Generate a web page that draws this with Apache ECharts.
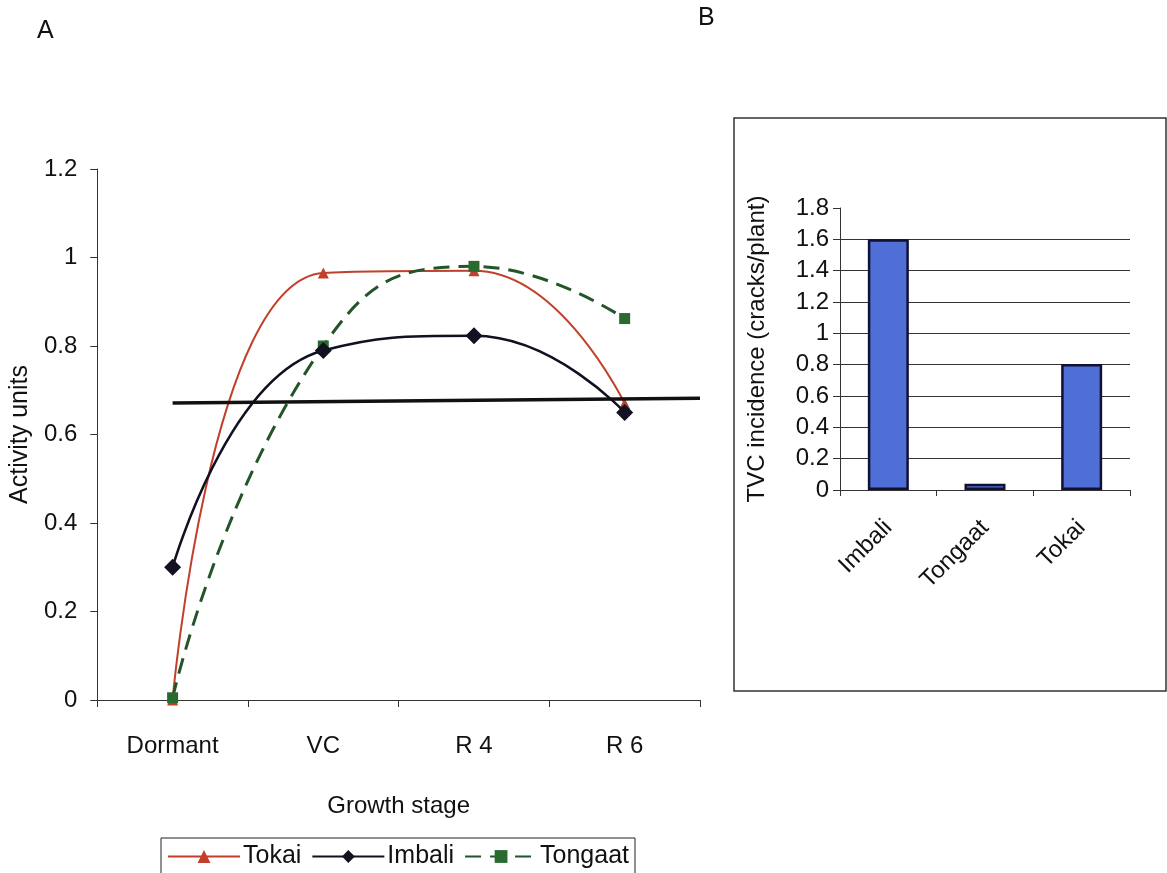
<!DOCTYPE html>
<html>
<head>
<meta charset="utf-8">
<script src="https://cdn.jsdelivr.net/npm/echarts@6/dist/echarts.min.js"></script>
<style>html,body{margin:0;padding:0;background:#fff}#c{width:1167px;height:873px}</style>
</head>
<body>
<div id="c"></div>
<script>
// ---- Panel A data ----
const stages = ['Dormant', 'VC', 'R 4', 'R 6'];
const tokai = [0, 0.965, 0.97, 0.67];
const imbali = [0.30, 0.79, 0.823, 0.65];
const tongaat = [0.005, 0.80, 0.98, 0.862];
const thresholdLine = [[0.5, 0.671], [4, 0.682]];
// ---- Panel B data ----
const cultivars = ['Imbali', 'Tongaat', 'Tokai'];
const tvcIncidence = [1.6, 0.04, 0.805];

const FONT = 'Liberation Sans, Arial, sans-serif';
const chart = echarts.init(document.getElementById('c'), null, {renderer: 'canvas'});

const option = {
  backgroundColor: '#fff',
  animation: false,
  textStyle: {fontFamily: FONT, color: '#111'},
  graphic: [
    {type: 'text', left: 37, top: 19, style: {text: 'A', font: '25px ' + FONT, fill: '#111'}},
    {type: 'text', left: 698, top: 6, style: {text: 'B', font: '25px ' + FONT, fill: '#111'}},
    {type: 'rect', shape: {x: 734, y: 118, width: 432, height: 573}, style: {fill: 'none', stroke: '#333', lineWidth: 1.5}, z: -1}
  ],
  legend: {
    data: ['Tokai', 'Imbali', 'Tongaat'],
    left: 161, top: 838,
    orient: 'horizontal',
    padding: [6, 6, 6, 6],
    borderColor: '#222', borderWidth: 1,
    itemWidth: 72, itemHeight: 16, itemGap: 10,
    textStyle: {fontSize: 25, fontFamily: FONT, color: '#111', padding: [0, 0, 0, -2]}
  },
  grid: [
    {left: 97, right: 467, top: 169, bottom: 173, containLabel: false},
    {left: 840, right: 37, top: 208, bottom: 383, containLabel: false}
  ],
  xAxis: [
    {
      type: 'category', gridIndex: 0, data: stages, boundaryGap: true,
      axisLine: {lineStyle: {color: '#333', width: 1}},
      axisTick: {show: true, length: 7, inside: false, lineStyle: {color: '#333'}},
      axisLabel: {fontSize: 24, color: '#111', margin: 34, fontFamily: FONT},
      name: 'Growth stage', nameLocation: 'middle', nameGap: 94,
      nameTextStyle: {fontSize: 24, color: '#111', fontFamily: FONT}
    },
    {type: 'value', gridIndex: 0, min: 0, max: 4, show: false},
    {
      type: 'category', gridIndex: 1, data: cultivars, boundaryGap: true,
      axisLine: {lineStyle: {color: '#333', width: 1}},
      axisTick: {show: true, length: 6, lineStyle: {color: '#333'}},
      axisLabel: {fontSize: 24, color: '#111', rotate: 45, margin: 34, fontFamily: FONT}
    }
  ],
  yAxis: [
    {
      type: 'value', gridIndex: 0, min: 0, max: 1.2, interval: 0.2,
      axisLine: {show: true, lineStyle: {color: '#333', width: 1}},
      axisTick: {show: true, length: 7, lineStyle: {color: '#333'}},
      splitLine: {show: false},
      axisLabel: {fontSize: 24, color: '#111', margin: 20, fontFamily: FONT},
      name: 'Activity units', nameLocation: 'middle', nameGap: 62, nameRotate: 90,
      nameTextStyle: {fontSize: 25, color: '#111', fontFamily: FONT}
    },
    {
      type: 'value', gridIndex: 1, min: 0, max: 1.8, interval: 0.2,
      axisLine: {show: true, lineStyle: {color: '#333', width: 1}},
      axisTick: {show: true, length: 7, lineStyle: {color: '#333'}},
      splitLine: {show: true, showMaxLine: false, lineStyle: {color: '#333', width: 1}},
      axisLabel: {fontSize: 24, color: '#111', margin: 11, fontFamily: FONT},
      name: 'TVC incidence (cracks/plant)', nameLocation: 'middle', nameGap: 71, nameRotate: 90,
      nameTextStyle: {fontSize: 24, color: '#111', fontFamily: FONT}
    }
  ],
  series: [
    {
      name: 'Tokai', type: 'line', xAxisIndex: 0, yAxisIndex: 0, data: tokai,
      smooth: 0.5, symbol: 'triangle', symbolSize: 11,
      lineStyle: {color: '#c0402a', width: 2},
      itemStyle: {color: '#c0402a'}, z: 3
    },
    {
      name: 'Imbali', type: 'line', xAxisIndex: 0, yAxisIndex: 0, data: imbali,
      smooth: 0.5, symbol: 'diamond', symbolSize: 17,
      lineStyle: {color: '#111122', width: 2.5},
      itemStyle: {color: '#111122'}, z: 4
    },
    {
      name: 'Tongaat', type: 'line', xAxisIndex: 0, yAxisIndex: 0, data: tongaat,
      smooth: 0.5, symbol: 'rect', symbolSize: 11,
      lineStyle: {color: '#24552a', width: 3, type: [16, 9]},
      itemStyle: {color: '#2a6a30'}, z: 3
    },
    {
      name: 'threshold', type: 'line', xAxisIndex: 1, yAxisIndex: 0, data: thresholdLine,
      symbol: 'none', lineStyle: {color: '#111', width: 3.5}, z: 5, silent: true
    },
    {
      name: 'TVC', type: 'bar', xAxisIndex: 2, yAxisIndex: 1, data: tvcIncidence,
      barWidth: 41,
      itemStyle: {color: '#4f6fd6', borderColor: '#111133', borderWidth: 2.5}
    }
  ]
};
chart.setOption(option);
</script>
</body>
</html>
